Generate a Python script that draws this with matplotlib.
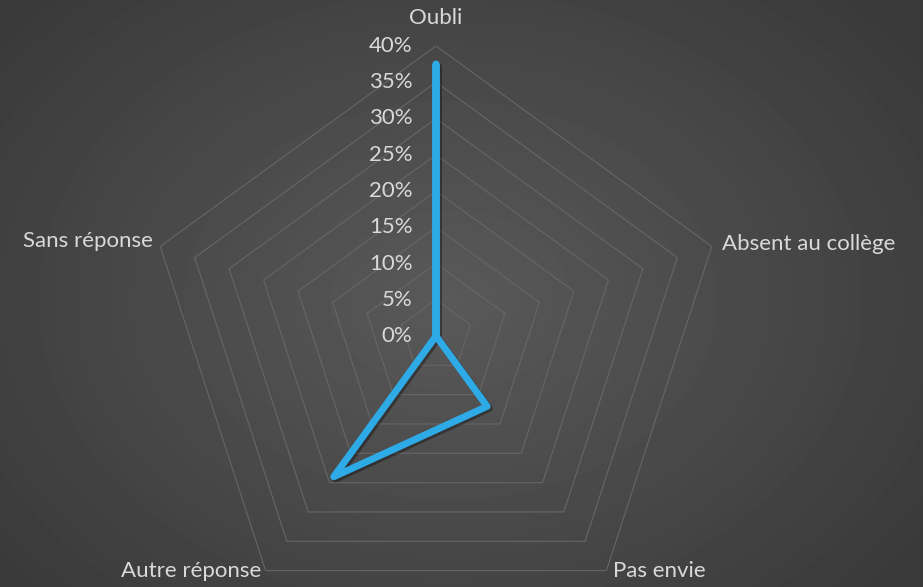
import numpy as np
import matplotlib.pyplot as plt
import matplotlib.patheffects as pe

categories = ["Oubli", "Absent au collège", "Pas envie", "Autre réponse", "Sans réponse"]
values = [0.375, 0.0, 0.12, 0.24, 0.0]
ring_levels = [0.0, 0.05, 0.10, 0.15, 0.20, 0.25, 0.30, 0.35, 0.40]
ring_labels = ["0%", "5%", "10%", "15%", "20%", "25%", "30%", "35%", "40%"]

plt.rcParams['font.family'] = ['Lato', 'DejaVu Sans']
txt_color = "#d9d9d9"
grid_color = "#666666"
line_color = "#2eaae6"

fig = plt.figure(figsize=(9.23, 5.87), dpi=100)

# radial gradient background
bg = fig.add_axes([0, 0, 1, 1])
yy, xx = np.mgrid[0:587, 0:923]
d = np.hypot((xx - 450) / 560.0, (yy - 300) / 420.0)
d = np.clip(d, 0, 1)
shade = 0.35 - 0.12 * d
bg.imshow(shade, cmap="gray", vmin=0, vmax=1, aspect="auto", extent=[0, 1, 0, 1])
bg.set_axis_off()

ax = fig.add_axes([146 / 923, -39 / 587, 580 / 923, 580 / 587], projection="polar")
ax.set_theta_offset(np.pi / 2)
ax.set_theta_direction(-1)
ax.set_ylim(0, 0.40)
ax.patch.set_alpha(0)
ax.grid(False)
ax.spines["polar"].set_visible(False)
ax.set_xticks([])
ax.set_yticks([])

n = len(categories)
angles = np.linspace(0, 2 * np.pi, n, endpoint=False)
closed = np.append(angles, angles[0])

for r in ring_levels[1:]:
    ax.plot(closed, [r] * (n + 1), color=grid_color, lw=0.8, zorder=1)

vals = np.append(values, values[0])
ax.plot(closed, vals, color=line_color, lw=5, solid_joinstyle="round",
        solid_capstyle="round", zorder=3,
        path_effects=[pe.SimpleLineShadow(offset=(1.5, -1.5), alpha=0.35),
                      pe.Normal()])

for r, lab in zip(ring_levels, ring_labels):
    ax.annotate(lab, xy=(0, r), xytext=(-17, 0), textcoords="offset points",
                ha="right", va="center", fontsize=16, color=txt_color,
                annotation_clip=False)

offsets = [(0, 20, "center"), (7, 2, "left"), (5, 0, "left"), (-3, 0, "right"), (-5, 4, "right")]
for ang, lab, (dx, dy, ha) in zip(angles, categories, offsets):
    ax.annotate(lab, xy=(ang, 0.40), xytext=(dx, dy), textcoords="offset points",
                ha=ha, va="center", fontsize=16, color=txt_color,
                annotation_clip=False)

fig.savefig("out.png", dpi=100)
